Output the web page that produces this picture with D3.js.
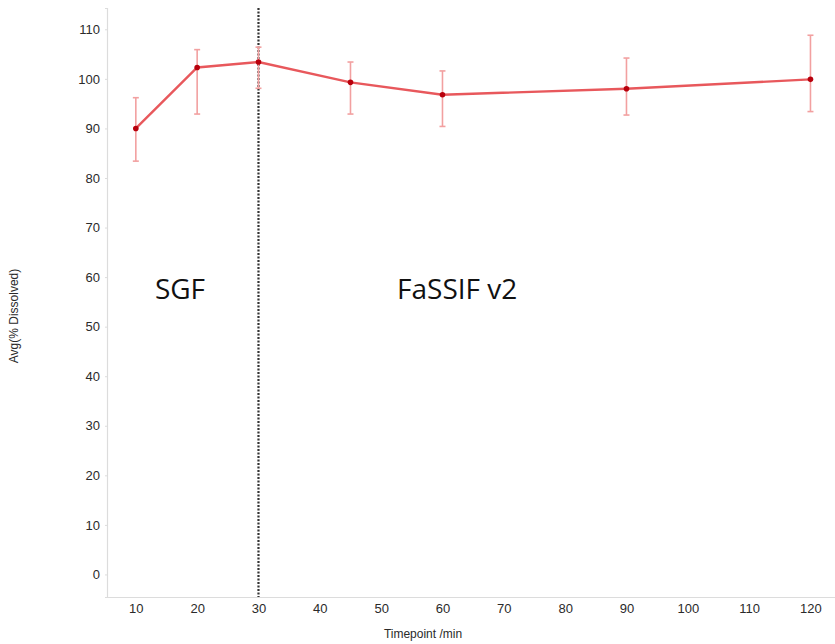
<!DOCTYPE html>
<html>
<head>
<meta charset="utf-8">
<script src="https://cdn.jsdelivr.net/npm/d3@7"></script>
<style>
  body { margin: 0; background: #fff; }
  svg { display: block; }
</style>
</head>
<body>
<svg id="chart"></svg>
<script>
// timepoints (min) and dissolution values
var timepoints = [10, 20, 30, 45, 60, 90, 120]
var avgDissolved = [90.0, 102.3, 103.4, 99.3, 96.8, 98.0, 99.9]
var errLow = [83.4, 92.9, 98.1, 92.9, 90.4, 92.7, 93.4]
var errHigh = [96.2, 105.9, 106.4, 103.4, 101.6, 104.2, 108.8]
var xTicks = [10, 20, 30, 40, 50, 60, 70, 80, 90, 100, 110, 120]
var yTicks = [0, 10, 20, 30, 40, 50, 60, 70, 80, 90, 100, 110]
var mediumChange = 30
var phaseLabels = [{text: "SGF", t: 17.2}, {text: "FaSSIF v2", t: 62.4}]

var dimensions = {
  width: 835,
  height: 644,
  margin: { top: 8, bottom: 47, right: 0, left: 107 }
}

var svg = d3.select("#chart")
  .attr("width", dimensions.width)
  .attr("height", dimensions.height)

var data = timepoints.map(function(t, i) {
  return { t: t, v: avgDissolved[i], lo: errLow[i], hi: errHigh[i] }
})

var xScale = d3.scaleLinear()
  .domain([5.3, 124])
  .range([dimensions.margin.left, dimensions.width - dimensions.margin.right])

var yScale = d3.scaleLinear()
  .domain([-4.55, 114.3])
  .range([dimensions.height - dimensions.margin.bottom, dimensions.margin.top])

// axes
var xAxisGen = d3.axisBottom(xScale).tickValues(xTicks).tickSize(0).tickPadding(7)
var xAxis = svg.append("g")
  .attr("transform", `translate(0,${dimensions.height - dimensions.margin.bottom})`)
  .call(xAxisGen)

var yAxisGen = d3.axisLeft(yScale).tickValues(yTicks).tickSize(2).tickPadding(5)
var yAxis = svg.append("g")
  .attr("transform", `translate(${dimensions.margin.left},0)`)
  .call(yAxisGen)

svg.selectAll(".domain").attr("stroke", "#dcdcdc").attr("stroke-width", 1.2)
svg.selectAll(".tick line").attr("stroke", "#dcdcdc")
svg.selectAll(".tick text")
  .attr("fill", "#2a2a2a")
  .style("font-family", "Arial, 'Liberation Sans', sans-serif")
  .style("font-size", "13px")

svg.append("text")
  .attr("x", 423)
  .attr("y", 638)
  .attr("text-anchor", "middle")
  .attr("fill", "#2a2a2a")
  .style("font-family", "Arial, 'Liberation Sans', sans-serif")
  .style("font-size", "12px")
  .text("Timepoint /min")

svg.append("text")
  .attr("transform", "translate(18,316) rotate(-90)")
  .attr("text-anchor", "middle")
  .attr("fill", "#2a2a2a")
  .style("font-family", "Arial, 'Liberation Sans', sans-serif")
  .style("font-size", "12px")
  .text("Avg(% Dissolved)")

// dashed divider where the medium changes
svg.append("line")
  .attr("x1", xScale(mediumChange))
  .attr("x2", xScale(mediumChange))
  .attr("y1", dimensions.margin.top)
  .attr("y2", dimensions.height - dimensions.margin.bottom)
  .attr("stroke", "#333")
  .attr("stroke-width", 2.2)
  .attr("stroke-dasharray", "2,1.5")

// phase labels
svg.append("g").selectAll("text")
  .data(phaseLabels)
  .enter()
  .append("text")
  .attr("x", d => xScale(d.t))
  .attr("y", 299)
  .attr("text-anchor", "middle")
  .attr("fill", "#111")
  .style("font-family", "'Open Sans', sans-serif")
  .style("font-size", "28px")
  .text(d => d.text)

// error bars
var errG = svg.append("g")
  .attr("stroke", "#f2a0a0")
  .attr("stroke-width", 1.6)
errG.selectAll(".bar")
  .data(data)
  .enter()
  .append("line")
  .attr("x1", d => xScale(d.t))
  .attr("x2", d => xScale(d.t))
  .attr("y1", d => yScale(d.lo))
  .attr("y2", d => yScale(d.hi))
errG.selectAll(".capHi")
  .data(data)
  .enter()
  .append("line")
  .attr("x1", d => xScale(d.t) - 3)
  .attr("x2", d => xScale(d.t) + 3)
  .attr("y1", d => yScale(d.hi))
  .attr("y2", d => yScale(d.hi))
errG.selectAll(".capLo")
  .data(data)
  .enter()
  .append("line")
  .attr("x1", d => xScale(d.t) - 3)
  .attr("x2", d => xScale(d.t) + 3)
  .attr("y1", d => yScale(d.lo))
  .attr("y2", d => yScale(d.lo))

// mean line
var line = d3.line()
  .x(d => xScale(d.t))
  .y(d => yScale(d.v))

svg.append("path")
  .datum(data)
  .attr("fill", "none")
  .attr("stroke", "#e8585c")
  .attr("stroke-width", 2.4)
  .attr("d", line)

svg.append("g").selectAll("circle")
  .data(data)
  .enter()
  .append("circle")
  .attr("cx", d => xScale(d.t))
  .attr("cy", d => yScale(d.v))
  .attr("r", 2.8)
  .attr("fill", "#b8000c")
</script>
</body>
</html>
